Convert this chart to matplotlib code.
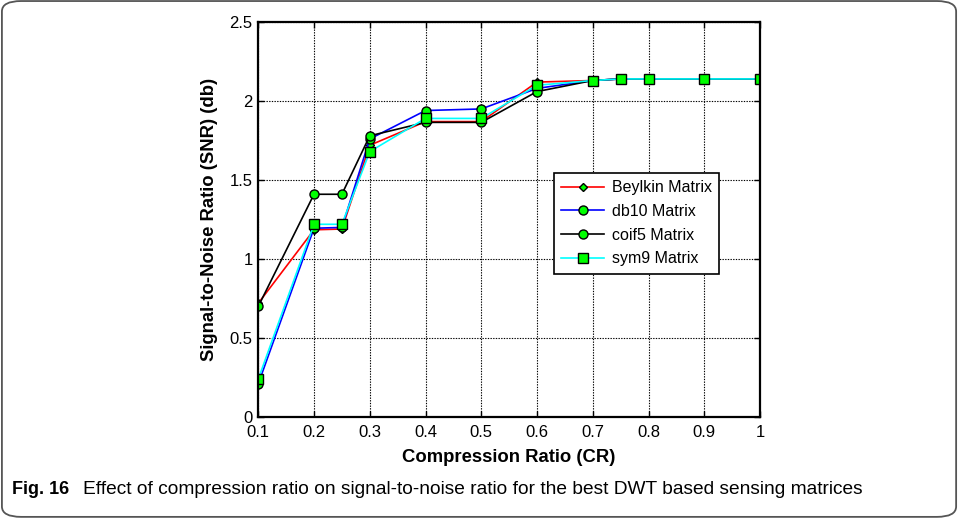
import numpy as np
import matplotlib.pyplot as plt
from matplotlib.patches import FancyBboxPatch

# Compression ratio values
cr = [0.1, 0.2, 0.25, 0.3, 0.4, 0.5, 0.6, 0.7, 0.75, 0.8, 0.9, 1.0]

# SNR (db) for each sensing matrix
snr_beylkin = [0.72, 1.185, 1.19, 1.72, 1.87, 1.87, 2.12, 2.13, 2.14, 2.14, 2.14, 2.14]
snr_db10 = [0.21, 1.195, 1.20, 1.76, 1.94, 1.95, 2.08, 2.13, 2.14, 2.14, 2.14, 2.14]
snr_coif5 = [0.70, 1.41, 1.41, 1.78, 1.865, 1.865, 2.06, 2.13, 2.14, 2.14, 2.14, 2.14]
snr_sym9 = [0.24, 1.22, 1.22, 1.68, 1.89, 1.89, 2.10, 2.13, 2.14, 2.14, 2.14, 2.14]

x_ticks = [0.1, 0.2, 0.3, 0.4, 0.5, 0.6, 0.7, 0.8, 0.9, 1.0]
x_ticklabels = ['0.1', '0.2', '0.3', '0.4', '0.5', '0.6', '0.7', '0.8', '0.9', '1']
y_ticks = [0, 0.5, 1, 1.5, 2, 2.5]
y_ticklabels = ['0', '0.5', '1', '1.5', '2', '2.5']

plt.rcParams['font.family'] = ['Liberation Sans', 'DejaVu Sans']

fig = plt.figure(figsize=(9.59, 5.20), dpi=100)
ax = fig.add_axes([0.2693, 0.198, 0.5232, 0.7596])

mk = dict(markerfacecolor='#00ff00', markeredgecolor='black', markeredgewidth=1.0)
ax.plot(cr, snr_beylkin, color='red', lw=1.2, marker='D', markersize=4.5, label='Beylkin Matrix', **mk)
ax.plot(cr, snr_db10, color='blue', lw=1.2, marker='o', markersize=6.5, label='db10 Matrix', **mk)
ax.plot(cr, snr_coif5, color='black', lw=1.2, marker='o', markersize=6.5, label='coif5 Matrix', **mk)
ax.plot(cr, snr_sym9, color='cyan', lw=1.2, marker='s', markersize=6.5, label='sym9 Matrix', **mk)

ax.set_xlim(0.1, 1.0)
ax.set_ylim(0, 2.5)
ax.set_xticks(x_ticks)
ax.set_xticklabels(x_ticklabels)
ax.set_yticks(y_ticks)
ax.set_yticklabels(y_ticklabels)
ax.tick_params(direction='in', labelsize=12, length=4, width=1, top=True, right=True)
ax.tick_params(axis='x', pad=6)
ax.tick_params(axis='y', pad=4)
ax.grid(True, color='black', linestyle=(0, (1.2, 1.2)), linewidth=0.8)
for s in ax.spines.values():
    s.set_linewidth(1.6)

ax.set_xlabel('Compression Ratio (CR)', fontsize=13.3, fontweight='bold', labelpad=6)
ax.set_ylabel('Signal-to-Noise Ratio (SNR) (db)', fontsize=13.3, fontweight='bold', labelpad=8)

leg = ax.legend(loc='upper left', bbox_to_anchor=(0.589, 0.618), borderaxespad=0, fontsize=11.5,
                frameon=True, fancybox=False, edgecolor='black', framealpha=1, borderpad=0.45,
                labelspacing=0.55, handlelength=2.7, handletextpad=0.5)
leg.get_frame().set_linewidth(1.2)

# rounded frame and caption
frame = FancyBboxPatch((0.002, 0.006), 0.995, 0.992, boxstyle='round,pad=0,rounding_size=0.02',
                       transform=fig.transFigure, fill=False, edgecolor='#555555', lw=1.3)
fig.patches.append(frame)
fig.text(0.0125, 0.058, 'Fig. 16', fontsize=13, fontweight='bold', va='center', ha='left')
fig.text(0.0865, 0.058, 'Effect of compression ratio on signal-to-noise ratio for the best DWT based sensing matrices',
         fontsize=13.8, va='center', ha='left')

fig.savefig('out.png', dpi=100)
